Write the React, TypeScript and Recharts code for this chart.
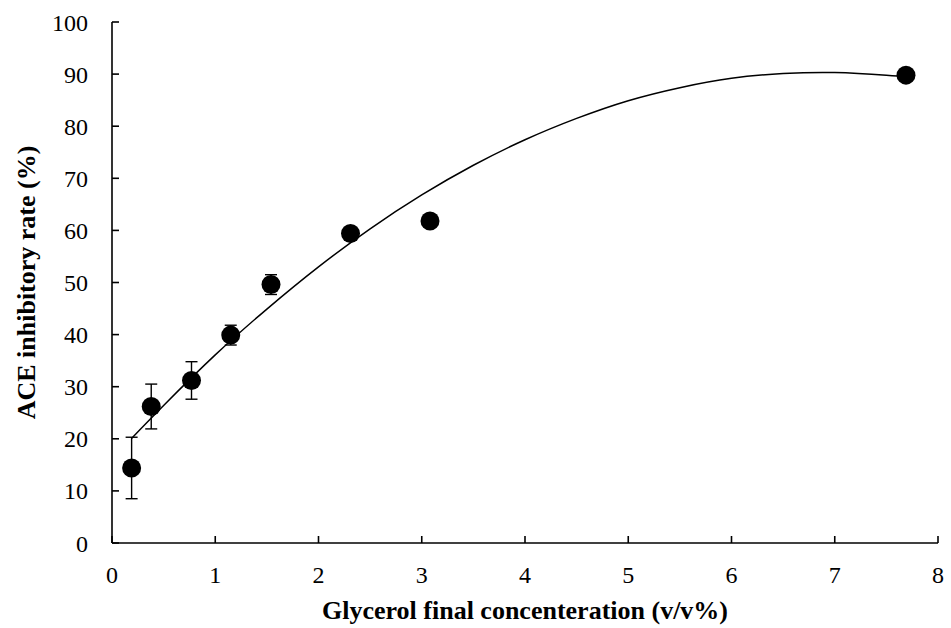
import React from 'react';
import { ComposedChart, XAxis, YAxis, Line, Scatter, ErrorBar } from 'recharts';

// Measured points (glycerol concentration, v/v %)
const concentrations = [0.19, 0.38, 0.77, 1.15, 1.54, 2.31, 3.08, 7.69];
const inhibitionRates = [14.4, 26.2, 31.2, 39.9, 49.6, 59.4, 61.8, 89.8];
const errorValues = [5.9, 4.3, 3.6, 1.9, 1.9, 0.6, 0.6, 0.6];

// Trendline
const trendX = [0.19, 0.5, 1, 1.5, 2, 2.5, 3, 3.5, 4, 4.5, 5, 5.5, 6, 6.5, 7, 7.5, 7.69];
const trendY = [20.1, 26.4, 36.1, 44.9, 53.0, 60.3, 66.8, 72.5, 77.4, 81.5, 84.9, 87.4, 89.2, 90.1, 90.3, 89.8, 89.5];

const xTicks = [0, 1, 2, 3, 4, 5, 6, 7, 8];
const yTicks = [0, 10, 20, 30, 40, 50, 60, 70, 80, 90, 100];

const points = concentrations.map((x, i) => ({ x, y: inhibitionRates[i], err: errorValues[i] }));
const trend = trendX.map((x, i) => ({ x, y: trendY[i] }));

const FONT = 'Liberation Serif';

const Dot = (props: any) => <circle cx={props.cx} cy={props.cy} r={9.5} fill="#000" />;

export default function App() {
  return (
    <div style={{ position: 'absolute', left: 0, top: 0, background: '#fff', fontFamily: FONT }}>
      <ComposedChart width={951} height={628} margin={{ top: 22, right: 13, bottom: 0, left: 0 }} style={{ fontFamily: FONT }}>
        <XAxis
          dataKey="x"
          type="number"
          domain={[0, 8]}
          ticks={xTicks}
          height={85}
          allowDataOverflow
          axisLine={{ stroke: '#000', strokeWidth: 1.6 }}
          tickLine={{ stroke: '#000', strokeWidth: 1.6 }}
          tickSize={-7}
          tickMargin={30}
          tick={{ fill: '#000', fontSize: 24, fontFamily: FONT, style: { fontFamily: FONT } }}
          label={{
            content: (p: any) => {
              const vb = p.viewBox || {};
              return (
                <text x={vb.x + vb.width / 2} y={619} textAnchor="middle" style={{ fontFamily: FONT }} fontWeight="bold" fontSize={26} fill="#000">
                  Glycerol final concenteration (v/v%)
                </text>
              );
            },
          }}
        />
        <YAxis
          type="number"
          domain={[0, 100]}
          ticks={yTicks}
          width={112}
          allowDataOverflow
          axisLine={{ stroke: '#000', strokeWidth: 1.6 }}
          tickLine={{ stroke: '#000', strokeWidth: 1.6 }}
          tickSize={-7}
          tickMargin={31}
          tick={{ fill: '#000', fontSize: 24, fontFamily: FONT, style: { fontFamily: FONT } }}
          label={{
            content: (p: any) => {
              const vb = p.viewBox || {};
              const cy = vb.y + vb.height / 2;
              return (
                <text x={35} y={cy} transform={`rotate(-90, 35, ${cy})`} textAnchor="middle" style={{ fontFamily: FONT }} fontWeight="bold" fontSize={26} fill="#000">
                  ACE inhibitory rate (%)
                </text>
              );
            },
          }}
        />
        <Line
          data={trend}
          dataKey="y"
          type="natural"
          stroke="#000"
          strokeWidth={1.5}
          dot={false}
          activeDot={false}
          isAnimationActive={false}
        />
        <Scatter data={points} dataKey="y" shape={Dot} isAnimationActive={false}>
          <ErrorBar dataKey="err" direction="y" width={6} stroke="#000" strokeWidth={1.4} />
        </Scatter>
      </ComposedChart>
    </div>
  );
}
